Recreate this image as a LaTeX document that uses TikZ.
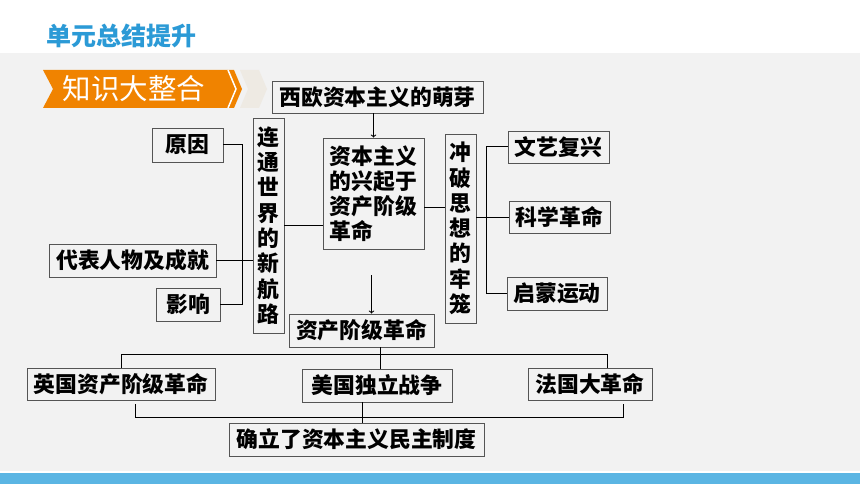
\documentclass[tikz,border=0pt]{standalone}
\usepackage{fontspec}
\usepackage{tikz}
\newfontfamily\cjk{Noto Sans CJK SC}
\definecolor{paper}{HTML}{F2F2F2}
\definecolor{head}{HTML}{2B9AD6}
\definecolor{band}{HTML}{5BB5E3}
\definecolor{flag}{HTML}{F08300}
\definecolor{tail}{HTML}{EEEAE3}
\definecolor{edge}{HTML}{555555}
\tikzset{
  box/.style={draw=edge, line width=0.9pt, inner sep=0pt, font=\cjk\bfseries\fontsize{21.8}{25}\selectfont},
  vbox/.style={box, align=center, font=\cjk\bfseries\fontsize{21.8}{25.3}\selectfont},
  link/.style={line width=1pt},
}
\begin{document}
\begin{tikzpicture}[x=1pt, y=-1pt]
\useasboundingbox (0,0) rectangle (860,484);
\fill[white] (0,0) rectangle (860,484);
\fill[paper] (0,53) rectangle (860,471);
\fill[band] (0,473) rectangle (860,484);
\node[text=head, font=\cjk\bfseries\fontsize{25}{25}\selectfont] (title) at (121,36) {单元总结提升};
% banner
\fill[flag] (43,70) -- (234,70) -- (242,89) -- (234,108) -- (43,108) -- (53,89) -- cycle;
\draw[white, line width=1.5pt] (228,70) -- (236,89) -- (228,108);
\fill[tail] (240,70) -- (259,70) -- (267,89) -- (259,108) -- (240,108) -- (248,89) -- cycle;
\node[text=white, font=\cjk\fontsize{28.5}{28.5}\selectfont] (zhishi) at (134,89) {知识大整合};
% top
\node[box, minimum width=211pt, minimum height=32pt] (xiou) at (377.5,97) {西欧资本主义的萌芽};
\node[box, align=left, minimum width=101pt, minimum height=111pt] (xingqi) at (373.5,193.5) {资本主义\\的兴起于\\资产阶级\\革命};
\node[vbox, minimum width=31pt, minimum height=215pt] (hanglu) at (268.5,225.5) {连\\通\\世\\界\\的\\新\\航\\路};
\node[vbox, minimum width=31pt, minimum height=189pt] (chongpo) at (460.5,228.5) {冲\\破\\思\\想\\的\\牢\\笼};
% left
\node[box, minimum width=71pt, minimum height=34pt] (yuanyin) at (187.5,145) {原因};
\node[box, minimum width=167pt, minimum height=33pt] (daibiao) at (132.5,260.5) {代表人物及成就};
\node[box, minimum width=64pt, minimum height=33pt] (yingxiang) at (188,304.5) {影响};
% right
\node[box, minimum width=101pt, minimum height=32pt] (wenyi) at (558.5,147) {文艺复兴};
\node[box, minimum width=101pt, minimum height=32pt] (kexue) at (559.5,217) {科学革命};
\node[box, minimum width=100pt, minimum height=33pt] (qimeng) at (557,293.5) {启蒙运动};
% bottom
\node[box, minimum width=145pt, minimum height=33pt] (geming) at (361.5,330.5) {资产阶级革命};
\node[box, minimum width=188pt, minimum height=32pt] (yingguo) at (121,384) {英国资产阶级革命};
\node[box, minimum width=150pt, minimum height=33pt] (meiguo) at (377,385.5) {美国独立战争};
\node[box, minimum width=124pt, minimum height=32pt] (faguo) at (590,384) {法国大革命};
\node[box, minimum width=255pt, minimum height=33pt] (queli) at (356.5,439.5) {确立了资本主义民主制度};
\coordinate (lb) at (242,0);
\coordinate (rb) at (486,0);
\coordinate (tb) at (0,354);
\coordinate (bb) at (0,417);
\draw[link, ->] (xingqi.north |- xiou.south) -- (xingqi.north);
\draw[link, ->] ([xshift=-2pt,yshift=-26pt]xingqi.south) coordinate (s) -- (s |- geming.north);
\draw[link] (hanglu.east) -- (hanglu.east -| xingqi.west);
\draw[link] ([yshift=-14.5pt]xingqi.east) coordinate (c) -- (c -| chongpo.west);
\draw[link] (yuanyin.east) -- (yuanyin.east -| lb) -- (yingxiang.east -| lb) -- (yingxiang.east);
\draw[link] (daibiao.east) -- (daibiao.east -| hanglu.west);
\draw[link] (wenyi.west) -- (wenyi.west -| rb) -- (qimeng.west -| rb) -- (qimeng.west);
\draw[link] (chongpo.east |- kexue.west) -- (kexue.west);
\draw[link] (yingguo.north) -- (yingguo.north |- tb) -- ([xshift=17pt]faguo.north |- tb) -- ([xshift=17pt]faguo.north);
\draw[link] ([xshift=3pt]meiguo.north) -- ([xshift=3pt]meiguo.north |- geming.south);
\draw[link] ([xshift=14pt,yshift=-4pt]yingguo.south) coordinate (l) -- (l |- bb) -- ([xshift=33pt]faguo.south |- bb) -- ([xshift=33pt,yshift=-4pt]faguo.south);
\draw[link] ([xshift=-15pt]meiguo.south) -- ([xshift=-15pt]meiguo.south |- queli.north);
\end{tikzpicture}
\end{document}
